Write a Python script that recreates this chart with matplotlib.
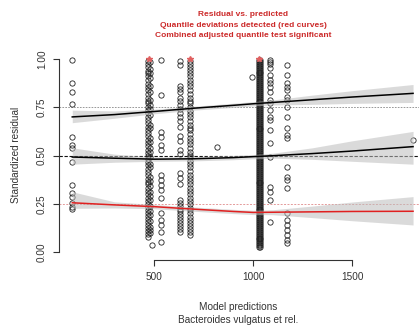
import matplotlib
matplotlib.use("Agg")
import matplotlib.pyplot as plt
import numpy as np

plt.rcParams['font.family'] = ['Liberation Sans', 'DejaVu Sans']

# ---- data ----
title_lines = ["Residual vs. predicted",
               "Quantile deviations detected (red curves)",
               "Combined adjusted quantile test significant"]
x_label_lines = ["Model predictions", "Bacteroides vulgatus et rel."]
y_label = "Standardized residual"
x_ticks = [500, 1000, 1500]
y_ticks = [0.0, 0.25, 0.5, 0.75, 1.0]
y_tick_labels = ["0.00", "0.25", "0.50", "0.75", "1.00"]

col87_y = [0.995, 0.877, 0.83, 0.765, 0.594, 0.554, 0.537, 0.465, 0.347,
           0.304, 0.287, 0.255, 0.235, 0.221]
col470_y = [0.99, 0.975, 0.96, 0.94, 0.925, 0.91, 0.89, 0.87, 0.855, 0.84,
            0.82, 0.80, 0.785, 0.77, 0.75, 0.735, 0.72, 0.70, 0.685, 0.67,
            0.65, 0.63, 0.615, 0.60, 0.58, 0.565, 0.55, 0.53, 0.515, 0.50,
            0.48, 0.465, 0.45, 0.43, 0.415, 0.40, 0.38, 0.365, 0.35, 0.33,
            0.315, 0.30, 0.28, 0.265, 0.25, 0.235, 0.22, 0.20, 0.185, 0.17,
            0.155, 0.14, 0.125, 0.11, 0.095, 0.08]
col482_y = [0.985, 0.95, 0.93, 0.90, 0.86, 0.83, 0.79, 0.76, 0.74, 0.71,
            0.66, 0.64, 0.59, 0.57, 0.54, 0.52, 0.49, 0.455, 0.44, 0.39,
            0.37, 0.34, 0.31, 0.29, 0.27, 0.24, 0.21, 0.19, 0.16, 0.13,
            0.115, 0.10]
col490_y = [0.035]
col535_y = [0.995, 0.813, 0.623, 0.596, 0.554, 0.528, 0.399, 0.373, 0.347,
            0.321, 0.28, 0.202, 0.166, 0.14, 0.104, 0.052]
col631_y = [0.99, 0.97, 0.86, 0.845, 0.83, 0.80, 0.78, 0.76, 0.74, 0.72,
            0.70, 0.68, 0.65, 0.60, 0.575, 0.53, 0.51, 0.41, 0.385, 0.35,
            0.27, 0.255, 0.24, 0.225, 0.21, 0.195, 0.18, 0.165, 0.15, 0.135,
            0.12, 0.105]
col682_y = [0.99, 0.975, 0.96, 0.945, 0.93, 0.91, 0.89, 0.875, 0.86, 0.84,
            0.82, 0.80, 0.785, 0.77, 0.75, 0.73, 0.715, 0.70, 0.68, 0.66,
            0.645, 0.63, 0.61, 0.59, 0.575, 0.56, 0.54, 0.52, 0.505, 0.49,
            0.47, 0.455, 0.44, 0.42, 0.40, 0.385, 0.37, 0.35, 0.33, 0.315,
            0.30, 0.28, 0.265, 0.25, 0.23, 0.215, 0.20, 0.18, 0.165, 0.15,
            0.135, 0.12, 0.105, 0.09]
col1032_y = [0.995, 0.985, 0.975, 0.965, 0.955, 0.945, 0.935, 0.925, 0.915,
             0.905, 0.895, 0.885, 0.875, 0.865, 0.855, 0.845, 0.835, 0.825,
             0.815, 0.805, 0.795, 0.785, 0.775, 0.765, 0.755, 0.745, 0.735,
             0.725, 0.715, 0.705, 0.695, 0.685, 0.675, 0.665, 0.655, 0.645,
             0.635, 0.625, 0.615, 0.605, 0.595, 0.585, 0.575, 0.565, 0.555,
             0.545, 0.535, 0.525, 0.515, 0.505, 0.495, 0.485, 0.475, 0.465,
             0.455, 0.445, 0.435, 0.425, 0.415, 0.405, 0.395, 0.385, 0.375,
             0.365, 0.355, 0.345, 0.335, 0.325, 0.315, 0.305, 0.295, 0.285,
             0.275, 0.265, 0.255, 0.245, 0.235, 0.225, 0.215, 0.205, 0.195,
             0.185, 0.175, 0.165, 0.155, 0.145, 0.135, 0.125, 0.115, 0.105,
             0.095, 0.085, 0.075, 0.065, 0.055, 0.045, 0.035, 0.025]
col1086_y = [0.995, 0.984, 0.974, 0.953, 0.917, 0.891, 0.876, 0.855, 0.829,
             0.788, 0.772, 0.736, 0.699, 0.684, 0.632, 0.565, 0.492, 0.337,
             0.311, 0.269, 0.155]
col1170_y = [0.969, 0.917, 0.876, 0.855, 0.839, 0.803, 0.788, 0.751, 0.699,
             0.642, 0.606, 0.591, 0.440, 0.389, 0.373, 0.332, 0.202, 0.166,
             0.140, 0.114, 0.088, 0.062, 0.047]
single_x = [820, 993, 1808]
single_y = [0.546, 0.909, 0.580]
outlier_x = [476, 682, 1032]
outlier_y = [1.0, 1.0, 1.0]

curve_x = [87, 300, 500, 700, 900, 1000, 1100, 1300, 1500, 1808]
q75_fit = [0.700, 0.712, 0.728, 0.745, 0.760, 0.768, 0.775, 0.789, 0.803, 0.822]
q75_lo = [0.670, 0.693, 0.716, 0.735, 0.749, 0.757, 0.762, 0.765, 0.770, 0.775]
q75_hi = [0.735, 0.731, 0.740, 0.755, 0.771, 0.779, 0.788, 0.813, 0.836, 0.868]
q50_fit = [0.492, 0.486, 0.481, 0.483, 0.489, 0.494, 0.499, 0.510, 0.523, 0.546]
q50_lo = [0.455, 0.465, 0.470, 0.472, 0.478, 0.483, 0.486, 0.480, 0.470, 0.455]
q50_hi = [0.540, 0.507, 0.492, 0.494, 0.500, 0.505, 0.512, 0.540, 0.576, 0.625]
q25_fit = [0.255, 0.244, 0.235, 0.222, 0.210, 0.205, 0.206, 0.208, 0.210, 0.211]
q25_lo = [0.226, 0.228, 0.224, 0.211, 0.199, 0.194, 0.193, 0.178, 0.162, 0.140]
q25_hi = [0.312, 0.260, 0.246, 0.233, 0.221, 0.216, 0.219, 0.238, 0.259, 0.287]

# ---- figure ----
fig = plt.figure(figsize=(4.19, 3.26), dpi=100)
ax = fig.add_axes([58.6 / 419, 1 - 259.7 / 326, 360.4 / 419, 208.4 / 326])
ax.set_xlim(18, 1838)
ax.set_ylim(-0.04, 1.04)

# horizontal reference lines
ax.axhline(0.75, color='#888888', lw=0.6, ls=(0, (2, 1.5)), zorder=1)
ax.axhline(0.5, color='#111111', lw=0.8, ls=(0, (3, 1.5)), zorder=1)
ax.axhline(0.25, color='#e49a9a', lw=0.7, ls=(0, (2, 1.5)), zorder=1)

mk = dict(marker='o', ls='none', mfc='none', mec='#222222', ms=3.8, mew=0.6,
          zorder=2)
ax.plot([87] * len(col87_y), col87_y, **mk)
ax.plot([468] * len(col470_y), col470_y, **mk)
ax.plot([480] * len(col482_y), col482_y, **mk)
ax.plot([490] * len(col490_y), col490_y, **mk)
ax.plot([535] * len(col535_y), col535_y, **mk)
ax.plot([631] * len(col631_y), col631_y, **mk)
ax.plot([682] * len(col682_y), col682_y, **mk)
ax.plot([1029] * len(col1032_y), col1032_y, **mk)
ax.plot([1035] * len(col1032_y), col1032_y, **mk)
ax.plot([1086] * len(col1086_y), col1086_y, **mk)
ax.plot([1170] * len(col1170_y), col1170_y, **mk)
ax.plot(single_x, single_y, **mk)
ax.plot(outlier_x, outlier_y, marker='*', ls='none', color='#e06060', ms=4,
        zorder=3)

# quantile bands and curves
for lo, hi in [(q75_lo, q75_hi), (q50_lo, q50_hi), (q25_lo, q25_hi)]:
    ax.fill_between(curve_x, lo, hi, color='#bdbdbd', alpha=0.55, lw=0, zorder=3)
ax.plot(curve_x, q75_fit, color='black', lw=1.1, zorder=4)
ax.plot(curve_x, q50_fit, color='black', lw=1.1, zorder=4)
ax.plot(curve_x, q25_fit, color='#e02020', lw=1.1, zorder=4)

# axes styling (R-like)
for s in ['top', 'right']:
    ax.spines[s].set_visible(False)
ax.spines['bottom'].set_bounds(500, 1500)
ax.spines['left'].set_bounds(0, 1)
for s in ['bottom', 'left']:
    ax.spines[s].set_color('#333333')
    ax.spines[s].set_linewidth(0.8)
ax.set_xticks(x_ticks)
ax.set_xticklabels([str(t) for t in x_ticks])
ax.set_yticks(y_ticks)
ax.set_yticklabels(y_tick_labels, rotation=90, va='center')
ax.tick_params(axis='both', direction='out', length=4.5, width=0.8,
               colors='#333333', labelsize=7.2, pad=4)

fig.text(16.5 / 419, 1 - 155 / 326, y_label, rotation=90, ha='center',
         va='center', fontsize=7.2, color='#333333')
for i, line in enumerate(x_label_lines):
    fig.text(238 / 419, 1 - (306.7 + 13.3 * i) / 326, line, ha='center',
             va='center', fontsize=7.2, color='#333333')
for i, line in enumerate(title_lines):
    fig.text(243 / 419, 1 - (14.7 + 10.5 * i) / 326, line, ha='center',
             va='center', fontsize=6.0, fontweight='bold', color='#cc2a2a')

fig.savefig('out.png', dpi=100)
